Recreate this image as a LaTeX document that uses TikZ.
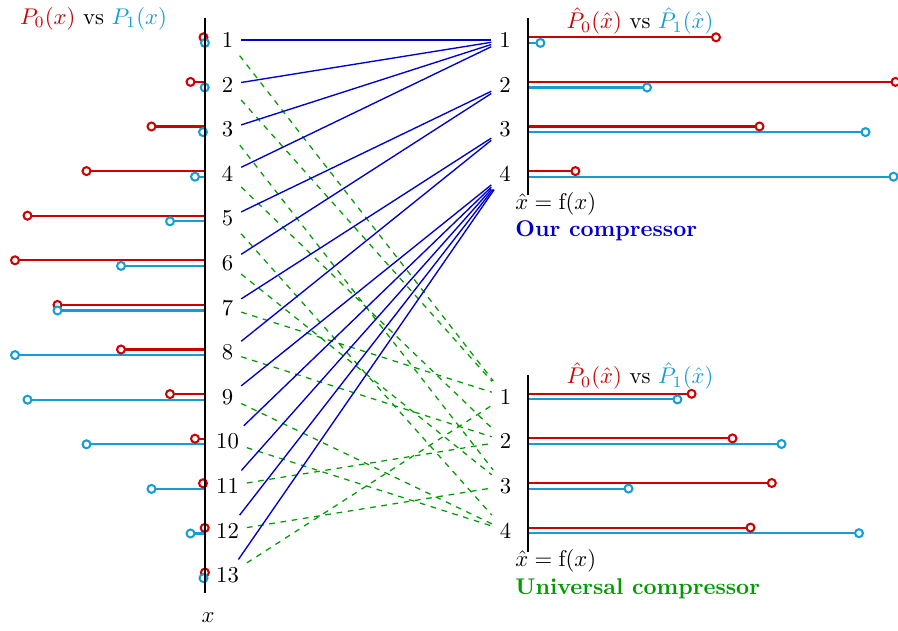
\documentclass[tikz,border=0pt]{standalone}
\definecolor{pz}{RGB}{204,0,0}
\definecolor{po}{RGB}{20,158,212}
\definecolor{cb}{RGB}{0,0,204}
\definecolor{cg}{RGB}{0,155,0}
\begin{document}
\begin{tikzpicture}[x=0.4405pt,y=-0.4405pt,
  lab/.style={inner sep=3.333pt},
  axisline/.style={line width=1pt,black},
  stemz/.style={pz,line width=0.9pt},
  stemo/.style={po,line width=0.9pt},
  ours/.style={cb,line width=0.6pt},
  univ/.style={cg,line width=0.55pt,dash pattern=on 2.5pt off 2.5pt},
  txt/.style={inner sep=0pt}]
\path[use as bounding box] (0,0) rectangle (898,631);
% left stems and labels
\foreach \i/\r/\b in {1/1.5/0.1,2/14.5/0.3,3/53.5/2,4/118.5/10,5/177.5/35,6/190/84,7/147.5/147.5,8/84/190,9/35/177.5,10/10/118.5,11/2/53.5,12/0.3/14.5,13/0.1/1.5}{
  \pgfmathsetmacro\yy{40.1+44.6*(\i-1)}
  \draw[stemz] (205,\yy-2.8) -- ++(-\r,0);
  \draw[stemo] (205,\yy+2.8) -- ++(-\b,0);
  \draw[stemz,fill=white] (205-\r,\yy-2.8) circle[radius=1.75pt];
  \draw[stemo,fill=white] (205-\b,\yy+2.8) circle[radius=1.75pt];
  \node[lab] (L\i) at (227.5,\yy) {\i};
}
% top right
\foreach \i/\r/\b in {1/188/12.4,2/367.5/119,3/231.5/337.5,4/47.4/365.5}{
  \pgfmathsetmacro\yy{40.1+44.6*(\i-1)}
  \draw[stemz] (528,\yy-2.8) -- ++(\r,0);
  \draw[stemo] (528,\yy+2.8) -- ++(\b,0);
  \draw[stemz,fill=white] (528+\r,\yy-2.8) circle[radius=1.75pt];
  \draw[stemo,fill=white] (528+\b,\yy+2.8) circle[radius=1.75pt];
  \node[lab] (T\i) at (505,\yy) {\i};
}
% bottom right
\foreach \i/\r/\b in {1/163.6/149.4,2/204.5/253.5,3/243.8/100.5,4/222.5/331}{
  \pgfmathsetmacro\yy{396.6+44.6*(\i-1)}
  \draw[stemz] (528,\yy-2.8) -- ++(\r,0);
  \draw[stemo] (528,\yy+2.8) -- ++(\b,0);
  \draw[stemz,fill=white] (528+\r,\yy-2.8) circle[radius=1.75pt];
  \draw[stemo,fill=white] (528+\b,\yy+2.8) circle[radius=1.75pt];
  \node[lab] (R\i) at (505.5,\yy) {\i};
}
% axes
\draw[axisline] (205,18) -- (205,593);
\draw[axisline] (528,18) -- (528,195);
\draw[axisline] (528,375) -- (528,552);
% connectors
\foreach \a/\b in {1/1,2/1,3/3,4/2,5/4,6/3,7/1,8/2,9/4,10/4,11/2,12/3,13/1}
  \draw[univ] (L\a) -- (R\b);
\foreach \a/\b in {1/1,2/1,3/1,4/1,5/2,6/2,7/3,8/3,9/4,10/4,11/4,12/4,13/4}
  \draw[ours] (L\a) -- (T\b);
% texts
\node[txt] (ttl) at (93.5,18.5) {\textcolor{pz}{$P_0(x)$} vs \textcolor{po}{$P_1(x)$}};
\node[txt] (ttr) at (640,21) {\textcolor{pz}{$\hat{P}_0(\hat{x})$} vs \textcolor{po}{$\hat{P}_1(\hat{x})$}};
\node[txt] (tbr) at (640,376) {\textcolor{pz}{$\hat{P}_0(\hat{x})$} vs \textcolor{po}{$\hat{P}_1(\hat{x})$}};
\node[txt,anchor=west] (fa) at (515,204) {$\hat{x}=\mathrm{f}(x)$};
\node[txt,anchor=west,text=cb,font=\bfseries] (oc) at (515,231) {Our compressor};
\node[txt,anchor=west] (fb) at (515,561) {$\hat{x}=\mathrm{f}(x)$};
\node[txt,anchor=west,text=cg,font=\bfseries] (uc) at (515,589) {Universal compressor};
\node[txt] (xl) at (208,618) {$x$};
\end{tikzpicture}
\end{document}
